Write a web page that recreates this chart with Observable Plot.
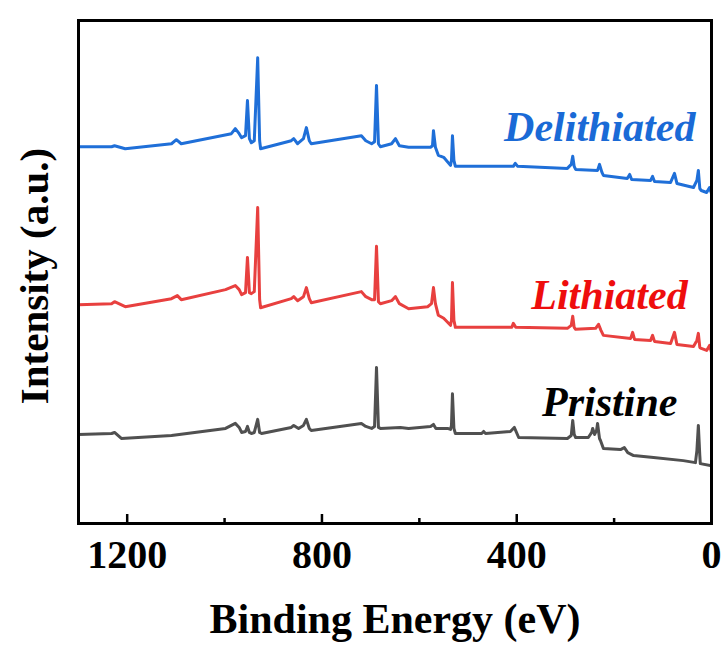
<!DOCTYPE html>
<html>
<head>
<meta charset="utf-8">
<script src="https://cdn.jsdelivr.net/npm/d3@7"></script>
<script src="https://cdn.jsdelivr.net/npm/@observablehq/plot@0.6"></script>
<style>
  html, body { margin: 0; padding: 0; background: #fff; }
</style>
</head>
<body>
<div id="chart"></div>
<script>
// Binding energy (eV) vs intensity (a.u.)
const delithiated = [
  [1300,74.9],[1232,74.9],[1226,75.1],[1204,74.5],[1109,75.5],[1099,76.3],[1089,75.5],
  [986,77.5],[978,78.5],[970,77.5],[965,76.7],[957,77.1],[953,84.1],[949,76.5],[945,75.7],
  [939,76.1],[932,92.6],[928,76.1],[926,74.5],[863,76.1],[858,76.5],[850,75.5],[838,76.5],
  [832,78.7],[826,76.1],[822,75.5],[719,77.1],[710,76.1],[698,75.5],[692,75.9],[688,87.1],
  [684,75.5],[680,74.9],[657,75.5],[649,76.5],[641,75.1],[622,74.8],[577,74.8],[573,75.1],
  [571,78.1],[567,74.8],[561,73.2],[550,72.8],[536,71.2],[534,72.2],[532,77.1],[529,72.2],
  [526,71.0],[407,71.0],[403,71.6],[398,71.0],[296,70.6],[288,71.4],[285,73.0],[282,71.0],
  [279,70.4],[234,70.2],[230,71.4],[225,69.8],[222,69.2],[173,68.6],[168,69.4],[164,68.4],
  [125,68.2],[121,69.0],[117,68.0],[84,67.8],[76,69.6],[71,67.6],[37,66.8],[30,68.2],
  [27,70.2],[24,66.6],[21,66.2],[10,65.8],[4,66.8],[0,65.6]
];
const lithiated = [
  [1300,43.5],[1232,43.7],[1226,44.1],[1204,43.1],[1109,44.7],[1097,45.3],[1089,44.5],
  [998,46.5],[978,47.3],[970,46.5],[965,45.5],[957,45.9],[953,52.9],[949,45.9],[945,45.7],
  [939,46.1],[932,62.8],[928,44.5],[926,42.9],[863,44.7],[858,45.1],[850,44.3],[838,45.1],
  [832,46.9],[826,44.7],[822,43.9],[719,46.1],[710,45.1],[698,44.5],[692,44.5],[688,55.1],
  [684,44.1],[680,43.7],[657,44.3],[649,45.1],[641,43.7],[622,42.7],[583,43.1],[575,43.7],
  [571,46.9],[567,43.7],[561,41.4],[550,40.8],[536,39.4],[534,40.4],[532,47.9],[529,40.4],
  [526,39.0],[410,39.0],[407,39.8],[402,39.0],[296,38.8],[288,39.4],[285,41.2],[282,39.0],
  [279,38.6],[238,38.8],[232,39.6],[227,38.4],[222,37.4],[166,36.8],[162,38.0],[158,36.6],
  [125,36.4],[121,37.4],[117,36.2],[84,35.8],[76,38.0],[71,35.6],[37,35.2],[30,36.4],
  [27,37.8],[24,35.0],[21,34.8],[10,34.4],[4,35.4],[0,34.0]
];
const pristine = [
  [1300,17.7],[1232,17.9],[1226,18.1],[1212,16.9],[1109,17.5],[998,18.9],[978,19.9],
  [970,19.1],[965,18.1],[957,18.3],[953,19.3],[949,18.1],[945,17.9],[939,18.1],[932,20.7],
  [928,18.1],[924,17.9],[863,19.1],[858,19.5],[848,18.9],[838,19.5],[832,20.7],[826,18.9],
  [822,18.5],[719,19.9],[710,19.3],[698,18.9],[692,19.3],[688,31.0],[684,19.1],[680,18.9],
  [639,19.1],[622,18.9],[577,19.3],[571,19.7],[566,18.9],[542,18.9],[536,18.7],[534,19.5],
  [532,25.8],[529,18.9],[526,17.9],[472,17.9],[468,18.3],[464,17.9],[413,18.3],[405,19.1],
  [396,17.1],[296,16.9],[288,17.5],[285,20.5],[282,17.7],[279,17.1],[253,17.1],[246,18.1],
  [244,18.9],[240,17.7],[236,18.5],[234,19.9],[230,16.9],[228,16.5],[222,14.9],[187,14.7],
  [179,15.1],[172,14.1],[160,13.5],[119,13.1],[58,12.5],[33,12.1],[30,14.5],[27,19.5],
  [24,13.5],[23,11.9],[0,11.5]
];

const seriesNames = ["Delithiated", "Lithiated", "Pristine"];
const majorTicks = [1200, 800, 400, 0];
const minorTicks = [1000, 600, 200];
const xTitle = "Binding Energy (eV)";
const yTitle = "Intensity (a.u.)";

const lineColors = ["#1f6fd8", "#e8403f", "#505050"];
const textColors = ["#1a6ad6", "#ee0d0d", "#000000"];
const serif = `"Liberation Serif", "Times New Roman", serif`;

const W = 725, H = 647, mTop = 20, mBottom = 124;
const frameH = H - mTop - mBottom;

const seriesData = [delithiated, lithiated, pristine];
const labelAt = [[33, 76.1], [49, 42.7], [70, 21.4]];

const marks = [];
seriesData.forEach((s, i) => {
  marks.push(Plot.line(s, {x: d => d[0], y: d => d[1], stroke: lineColors[i], strokeWidth: 3, strokeLinejoin: "round"}));
});
seriesNames.forEach((name, i) => {
  marks.push(Plot.text([name], {
    x: () => labelAt[i][0], y: () => labelAt[i][1], text: d => d,
    textAnchor: "end", lineAnchor: "bottom", fill: textColors[i],
    fontSize: 42, fontWeight: "bold", fontStyle: "italic", fontFamily: serif
  }));
});
marks.push(
  // inward ticks
  Plot.tickX(majorTicks, {x: d => d, insetTop: frameH - 9, stroke: "#000", strokeWidth: 2.5}),
  Plot.tickX(minorTicks, {x: d => d, insetTop: frameH - 5, stroke: "#000", strokeWidth: 2.5}),
  Plot.axisX({ticks: majorTicks, tickSize: 0, tickPadding: 16, tickFormat: d => String(d),
    fontSize: 40, fontWeight: "bold", fontFamily: serif, fill: "#000", label: null}),
  Plot.text([xTitle], {text: d => d, frameAnchor: "bottom", lineAnchor: "middle", textAnchor: "middle",
    dy: 96, fontSize: 42, fontWeight: "bold", fontFamily: serif, fill: "#000"}),
  Plot.text([yTitle], {text: d => d, frameAnchor: "left", textAnchor: "middle", lineAnchor: "middle",
    rotate: -90, dx: -44, dy: 4, fontSize: 41, fontWeight: "bold", fontFamily: serif, fill: "#000"}),
  Plot.frame({stroke: "#000", strokeWidth: 3})
);

const chart = Plot.plot({
  width: W,
  height: H,
  marginTop: mTop,
  marginBottom: mBottom,
  marginLeft: 78,
  marginRight: 14,
  x: {domain: [1300, 0], axis: null},
  y: {domain: [0, 100], axis: null},
  style: {background: "#fff", fontFamily: serif},
  marks
});
document.getElementById("chart").appendChild(chart);
</script>
</body>
</html>
